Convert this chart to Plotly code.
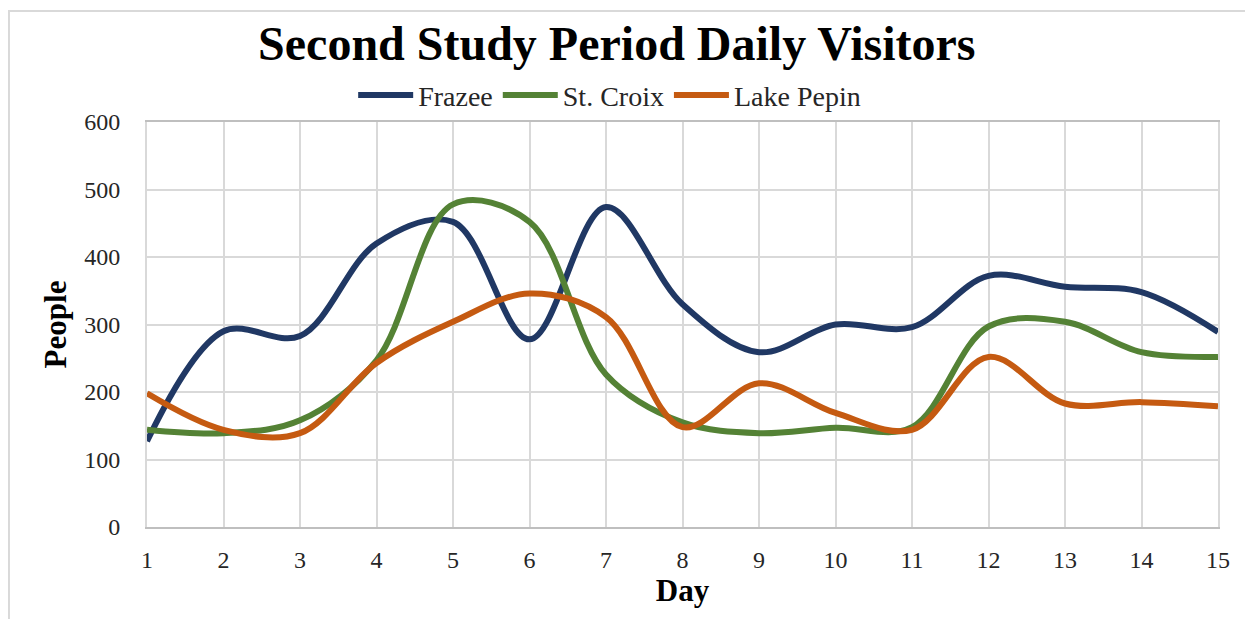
import plotly.graph_objects as go

days = list(range(1, 16))
frazee = [127, 290, 283, 420, 452, 278, 474, 330, 259, 300, 296, 372, 356, 348, 289]
st_croix = [144, 139, 158, 247, 478, 452, 226, 155, 139, 147, 148, 297, 304, 259, 252]
lake_pepin = [198, 144, 139, 243, 304, 346, 311, 148, 213, 169, 144, 252, 183, 185, 179]

series = [
    ("Frazee", frazee, "#203864"),
    ("St. Croix", st_croix, "#548235"),
    ("Lake Pepin", lake_pepin, "#c55a11"),
]

serif = "Liberation Serif, Times New Roman, serif"

fig = go.Figure()
for name, vals, color in series:
    fig.add_trace(go.Scatter(
        x=days, y=vals, name=name, mode="lines",
        line=dict(color=color, width=6, shape="spline", smoothing=1),
    ))

fig.update_layout(
    width=1245, height=611,
    margin=dict(l=139, r=35, t=114, b=92),
    paper_bgcolor="white",
    plot_bgcolor="white",
    font=dict(family=serif, color="#262626"),
    title=dict(
        text="<b>Second Study Period Daily Visitors</b>",
        x=0.489, xanchor="center", y=0.942, yanchor="middle",
        font=dict(family=serif, size=48, color="black"),
    ),
    legend=dict(
        orientation="h", x=0.432, xanchor="center", y=1.066, yanchor="middle",
        font=dict(family=serif, size=28, color="#262626"),
        bgcolor="rgba(0,0,0,0)",
        itemwidth=55, tracegroupgap=0,
    ),
    xaxis=dict(
        range=[1, 15], tickmode="array", tickvals=days,
        showgrid=True, gridcolor="#d9d9d9", gridwidth=2,
        showline=True, linecolor="#bfbfbf", linewidth=2, mirror=True,
        zeroline=False, ticks="",
        tickfont=dict(family=serif, size=24, color="#262626"),
        ticklabelstandoff=10,
        title=dict(text="<b>Day</b>", font=dict(family=serif, size=31, color="black"), standoff=2),
    ),
    yaxis=dict(
        range=[0, 600], dtick=100,
        showgrid=True, gridcolor="#d9d9d9", gridwidth=2,
        showline=True, linecolor="#d9d9d9", linewidth=2, mirror=True,
        zeroline=False, ticks="",
        tickfont=dict(family=serif, size=24, color="#262626"),
        ticklabelstandoff=20,
        title=dict(text="<b>People</b>", font=dict(family=serif, size=31, color="black"), standoff=8),
    ),
    shapes=[dict(
        type="rect", xref="paper", yref="paper",
        x0=-0.1289, x1=1.028, y0=-0.25, y1=1.274,
        line=dict(color="#d9d9d9", width=2), fillcolor="rgba(0,0,0,0)", layer="below",
    )],
)

fig.write_html("out.html")
